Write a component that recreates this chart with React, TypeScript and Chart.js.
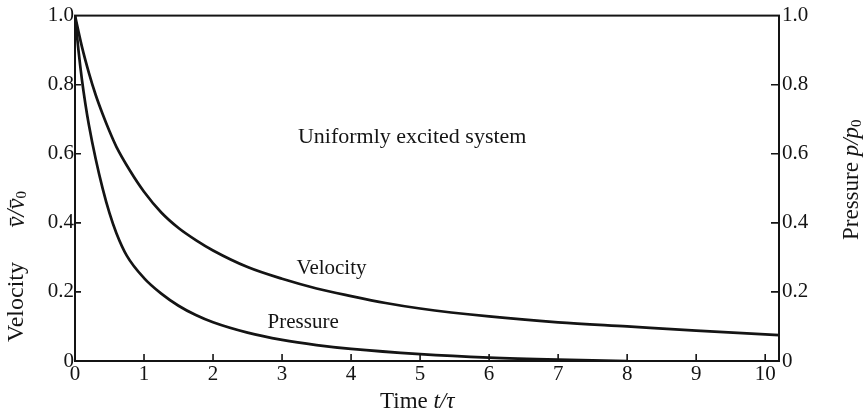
import React, { useEffect, useRef } from 'react';
import { Chart, registerables } from 'chart.js';

Chart.register(...registerables);

// ---- data ----
const velocityTime = [0, 0.1, 0.2, 0.3, 0.4, 0.5, 0.6, 0.8, 1.0, 1.25, 1.5, 1.75, 2.0, 2.5, 3.0, 3.5, 4.0, 4.5, 5.0, 6.0, 7.0, 8.0, 9.0, 10.0, 10.2];
const velocityValue = [1.0, 0.91, 0.835, 0.77, 0.715, 0.665, 0.62, 0.55, 0.49, 0.43, 0.385, 0.35, 0.32, 0.272, 0.238, 0.21, 0.188, 0.168, 0.152, 0.129, 0.112, 0.1, 0.088, 0.077, 0.075];

const pressureTime = [0, 0.05, 0.1, 0.15, 0.2, 0.3, 0.4, 0.5, 0.6, 0.75, 1.0, 1.25, 1.5, 1.75, 2.0, 2.5, 3.0, 3.5, 4.0, 5.0, 6.0, 7.0, 8.0];
const pressureValue = [1.0, 0.9, 0.815, 0.745, 0.685, 0.585, 0.5, 0.428, 0.37, 0.305, 0.24, 0.195, 0.16, 0.133, 0.112, 0.082, 0.061, 0.046, 0.035, 0.02, 0.01, 0.004, 0.0];

const xTickValues = [0, 1, 2, 3, 4, 5, 6, 7, 8, 9, 10];
const yTickValues = [0, 0.2, 0.4, 0.6, 0.8, 1.0];

const xMax = 10.2;

const annotationTexts = ['Uniformly excited system', 'Velocity', 'Pressure'];
const annotationX = [3.23, 3.21, 2.79];
const annotationY = [0.648, 0.268, 0.112];

const INK = '#141414';
const FAMILY = '"Liberation Serif", "DejaVu Serif", serif';

type Run = { text: string; font: string; dy?: number };

function drawRuns(ctx: CanvasRenderingContext2D, runs: Run[], x: number, y: number) {
  let cx = x;
  for (const r of runs) {
    ctx.font = r.font;
    ctx.fillText(r.text, cx, y + (r.dy || 0));
    cx += ctx.measureText(r.text).width;
  }
}

const framePlugin = {
  id: 'framePlugin',
  afterDraw(chart: any) {
    const { ctx, chartArea: a, scales } = chart;
    const xs = scales.x;
    const ys = scales.y;
    ctx.save();
    ctx.strokeStyle = INK;
    ctx.fillStyle = INK;
    ctx.lineWidth = 2;
    ctx.strokeRect(a.left, a.top, a.right - a.left, a.bottom - a.top);

    ctx.lineWidth = 1.6;
    ctx.beginPath();
    for (const t of xTickValues) {
      if (t <= 0) continue;
      const px = xs.getPixelForValue(t);
      ctx.moveTo(px, a.bottom);
      ctx.lineTo(px, a.bottom - 7);
    }
    for (const v of yTickValues) {
      if (v <= 0 || v >= 1) continue;
      const py = ys.getPixelForValue(v);
      ctx.moveTo(a.left, py);
      ctx.lineTo(a.left + 6, py);
      ctx.moveTo(a.right, py);
      ctx.lineTo(a.right - 8, py);
    }
    ctx.stroke();

    // annotations inside the plot
    ctx.textBaseline = 'middle';
    ctx.textAlign = 'left';
    annotationTexts.forEach((txt, i) => {
      ctx.font = (i === 0 ? '22px ' : '21px ') + FAMILY;
      ctx.fillText(txt, xs.getPixelForValue(annotationX[i]), ys.getPixelForValue(annotationY[i]));
    });

    const normal = '23px ' + FAMILY;
    const italic = 'italic 23px ' + FAMILY;
    const sub = '15px ' + FAMILY;

    // bottom title
    drawRuns(ctx, [
      { text: 'Time ', font: normal },
      { text: 't/τ', font: italic },
    ], 380, 402);

    // left title
    ctx.save();
    ctx.translate(17, 342);
    ctx.rotate(-Math.PI / 2);
    drawRuns(ctx, [
      { text: 'Velocity', font: '24px ' + FAMILY },
      { text: '      ', font: normal },
      { text: 'v\u0304/v\u0304', font: 'italic 25px ' + FAMILY },
      { text: '0', font: sub, dy: 5 },
    ], 0, 0);
    ctx.restore();

    // right title
    ctx.save();
    ctx.translate(852, 240);
    ctx.rotate(-Math.PI / 2);
    drawRuns(ctx, [
      { text: 'Pressure ', font: normal },
      { text: 'p/p', font: italic },
      { text: '0', font: sub, dy: 5 },
    ], 0, 0);
    ctx.restore();

    ctx.restore();
  },
};

const fmt = (v: number) => (v === 0 ? '0' : Number(v).toFixed(1));

export default function App() {
  const ref = useRef<HTMLCanvasElement | null>(null);

  useEffect(() => {
    if (!ref.current) return;
    const tickFont = { family: '"Liberation Serif", "DejaVu Serif", serif', size: 21 };
    const chart = new Chart(ref.current, {
      type: 'line',
      data: {
        datasets: [
          {
            label: 'Velocity',
            data: velocityTime.map((t, i) => ({ x: t, y: velocityValue[i] })),
            borderColor: INK,
            borderWidth: 2.7,
            pointRadius: 0,
            cubicInterpolationMode: 'monotone',
            fill: false,
            yAxisID: 'y',
          },
          {
            label: 'Pressure',
            data: pressureTime.map((t, i) => ({ x: t, y: pressureValue[i] })),
            borderColor: INK,
            borderWidth: 2.7,
            pointRadius: 0,
            cubicInterpolationMode: 'monotone',
            fill: false,
            yAxisID: 'y',
          },
        ],
      },
      options: {
        responsive: false,
        animation: false,
        events: [],
        layout: { padding: { top: 14, left: 0, right: 0, bottom: 0 } },
        plugins: { legend: { display: false }, tooltip: { enabled: false } },
        scales: {
          x: {
            type: 'linear',
            min: 0,
            max: xMax,
            afterFit: (s: any) => { s.height = 54; },
            afterBuildTicks: (s: any) => { s.ticks = xTickValues.map((v) => ({ value: v })); },
            grid: { display: false, drawTicks: false },
            border: { display: false },
            ticks: { font: tickFont, color: INK, padding: 1, maxRotation: 0, autoSkip: false, callback: (v: any) => String(v) },
          },
          y: {
            type: 'linear',
            position: 'left',
            min: 0,
            max: 1,
            afterFit: (s: any) => { s.width = 75; },
            afterBuildTicks: (s: any) => { s.ticks = yTickValues.map((v) => ({ value: v })); },
            grid: { display: false, drawTicks: false },
            border: { display: false },
            ticks: { font: tickFont, color: INK, padding: 1, callback: (v: any) => fmt(v) },
          },
          y2: {
            type: 'linear',
            position: 'right',
            min: 0,
            max: 1,
            afterFit: (s: any) => { s.width = 85; },
            afterBuildTicks: (s: any) => { s.ticks = yTickValues.map((v) => ({ value: v })); },
            grid: { display: false, drawTicks: false },
            border: { display: false },
            ticks: { font: tickFont, color: INK, padding: 3, callback: (v: any) => fmt(v) },
          },
        },
      },
      plugins: [framePlugin],
    } as any);
    return () => chart.destroy();
  }, []);

  return (
    <div style={{ position: 'absolute', left: 0, top: 0, width: 864, height: 415, background: '#fff' }}>
      <canvas ref={ref} width={864} height={415} style={{ display: 'block' }} />
    </div>
  );
}
